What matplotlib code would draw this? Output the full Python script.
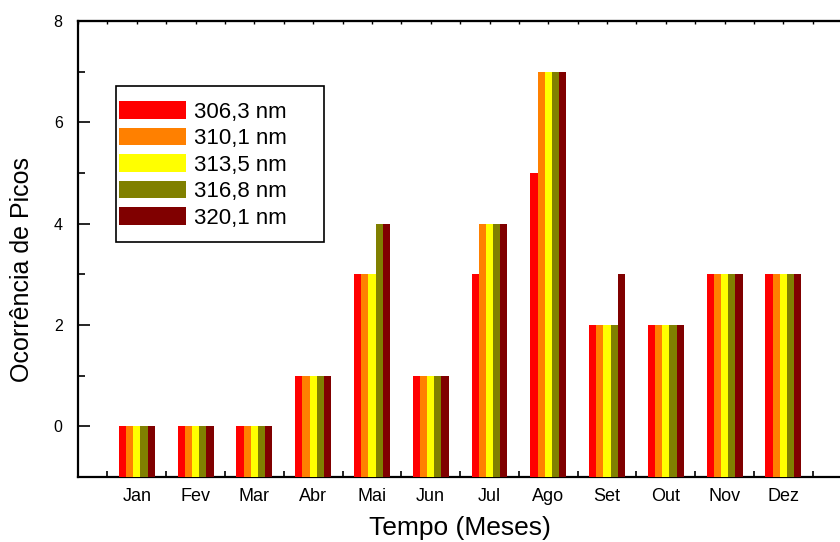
import matplotlib
matplotlib.use("Agg")
import matplotlib.pyplot as plt
from matplotlib.patches import Patch, Rectangle
from matplotlib.ticker import MultipleLocator, FixedLocator
import numpy as np

plt.rcParams['font.family'] = ['Liberation Sans', 'DejaVu Sans']

months = ["Jan", "Fev", "Mar", "Abr", "Mai", "Jun", "Jul", "Ago", "Set", "Out", "Nov", "Dez", "-"]
wavelengths = ["306,3 nm", "310,1 nm", "313,5 nm", "316,8 nm", "320,1 nm"]
colors = ["#FF0000", "#FF8000", "#FFFF00", "#808000", "#800000"]

s306 = [0, 0, 0, 1, 3, 1, 3, 5, 2, 2, 3, 3]
s310 = [0, 0, 0, 1, 3, 1, 4, 7, 2, 2, 3, 3]
s313 = [0, 0, 0, 1, 3, 1, 4, 7, 2, 2, 3, 3]
s316 = [0, 0, 0, 1, 4, 1, 4, 7, 2, 2, 3, 3]
s320 = [0, 0, 0, 1, 4, 1, 4, 7, 3, 2, 3, 3]
series = [s306, s310, s313, s316, s320]

baseline = -1.0
bar_w = 0.122

fig = plt.figure(figsize=(8.4, 5.42), dpi=100)
ax = fig.add_axes([78 / 840, 65 / 542, 823 / 840, 456 / 542])

x = np.arange(1, len(s306) + 1)
for i, (vals, col, lab) in enumerate(zip(series, colors, wavelengths)):
    vals = np.asarray(vals, dtype=float)
    ax.bar(x + (i - 2) * bar_w, vals - baseline, bottom=baseline, width=bar_w,
           color=col, linewidth=0, label=lab, zorder=3)

ax.set_xlim(0, 14)
ax.set_ylim(-1, 8)

# y axis
ax.yaxis.set_major_locator(FixedLocator([0, 2, 4, 6, 8]))
ax.yaxis.set_minor_locator(FixedLocator([-1, 1, 3, 5, 7]))
ax.tick_params(axis='y', which='major', direction='in', length=8.6, width=1.2,
               labelsize=11.5, pad=11)
ax.tick_params(axis='y', which='minor', direction='in', length=4.8, width=1.2)

# x axis: month labels at centres, short ticks at month boundaries
ax.xaxis.set_major_locator(FixedLocator(np.arange(1, 14)))
ax.set_xticklabels(months)
ax.xaxis.set_minor_locator(FixedLocator(np.arange(0.5, 14, 1.0)))
ax.tick_params(axis='x', which='major', direction='in', length=3, width=1.2,
               labelsize=13, pad=8)
ax.tick_params(axis='x', which='minor', direction='in', length=4.5, width=1.2)

top = ax.secondary_xaxis('top')
top.xaxis.set_major_locator(MultipleLocator(0.5))
top.tick_params(axis='x', which='major', direction='in', length=2.5, width=1.0,
                labeltop=False)
top.spines['top'].set_linewidth(1.5)

for side in ['left', 'bottom', 'top']:
    ax.spines[side].set_linewidth(1.6)
ax.spines['right'].set_visible(False)

ax.set_xlabel("Tempo (Meses)", fontsize=19, va='center')
ax.xaxis.set_label_coords((460 - 78) / 823, (477 - 528) / 456)
ax.set_ylabel("Ocorrência de Picos", fontsize=18, va='center')
ax.yaxis.set_label_coords((22 - 78) / 823, (477 - 270) / 456)

handles = [Patch(facecolor=c, edgecolor='none') for c in colors]
leg = ax.legend(handles, wavelengths, loc='upper left',
                bbox_to_anchor=((119 - 78) / 823, (477 - 101) / 456),
                frameon=False, fontsize=16, handlelength=3.0, handleheight=0.86,
                handletextpad=0.36, labelspacing=0.22, borderpad=0,
                borderaxespad=0)
ax.add_patch(Rectangle(((116 - 78) / 823, (477 - 242) / 456), 208 / 823, 156 / 456,
                       transform=ax.transAxes, fill=False, edgecolor='black',
                       linewidth=1.2, zorder=5, clip_on=False))

fig.savefig("out.png", dpi=100)
